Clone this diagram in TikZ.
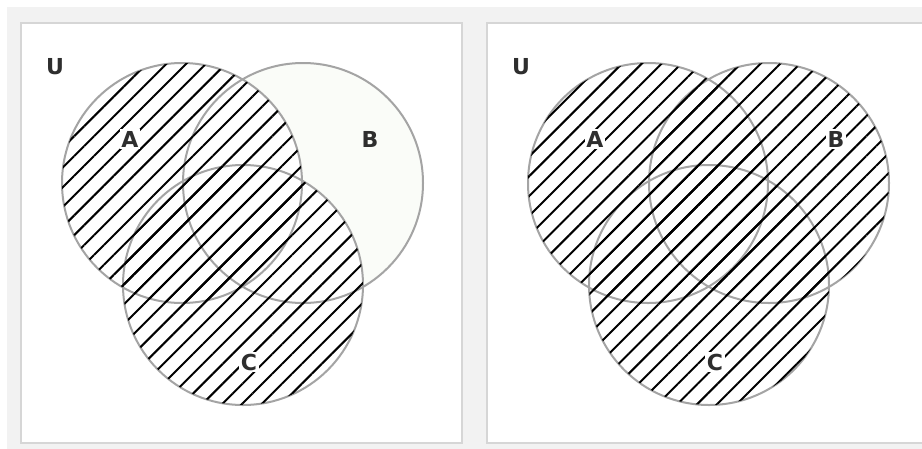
\documentclass[tikz,border=0pt]{standalone}
\usepackage{fontspec}
\setmainfont{DejaVu Sans}
\usetikzlibrary{patterns.meta}
\definecolor{Frame}{HTML}{F2F2F2}
\definecolor{Edge}{HTML}{D6D6D6}
\definecolor{Ring}{HTML}{A4A4A4}
\definecolor{Tint}{HTML}{FAFCF8}
\definecolor{Ink}{HTML}{2E2E2E}
\tikzset{
  panel/.style={draw=Edge,fill=white,line width=2pt},
  ring/.style={draw=Ring,line width=2pt},
  hatch/.style={pattern={Lines[angle=45,distance=14pt,line width=2pt]},pattern color=black},
  setlabel/.style={fill=white,inner sep=1.5pt,font=\fontsize{22}{22}\selectfont\bfseries,text=Ink},
  unilabel/.style={inner sep=0pt,font=\fontsize{22}{22}\selectfont\bfseries,text=Ink}
}

\begin{document}
\begin{tikzpicture}[x=1pt,y=-1pt]
  \useasboundingbox (0,0) rectangle (922,448);
  \fill[Frame] (7,7) rectangle (930,450);
  % left panel: A or C shaded
  \draw[panel] (21,23) rectangle (462,443);
  \fill[Tint] (303,183) circle (120pt);
  \fill[white] (182,183) circle (120pt) (243,285) circle (120pt);
  \draw[ring] (182,183) circle (120pt) (303,183) circle (120pt) (243,285) circle (120pt);
  \fill[hatch] (182,183) circle (120pt);
  \fill[hatch] (243,285) circle (120pt);
  \node[unilabel] (uL) at (55,67) {U};
  \node[setlabel] (aL) at (130,139) {A};
  \node[unilabel] (bL) at (370,139) {B};
  \node[setlabel] (cL) at (249,362) {C};
  % right panel: A or B or C shaded
  \draw[panel] (487,23) rectangle (940,443);
  \draw[ring] (648,183) circle (120pt) (769,183) circle (120pt) (709,285) circle (120pt);
  \fill[hatch] (648,183) circle (120pt);
  \fill[hatch] (769,183) circle (120pt);
  \fill[hatch] (709,285) circle (120pt);
  \node[unilabel] (uR) at (521,67) {U};
  \node[setlabel] (aR) at (595,139) {A};
  \node[setlabel] (bR) at (836,139) {B};
  \node[setlabel] (cR) at (715,362) {C};
\end{tikzpicture}
\end{document}
